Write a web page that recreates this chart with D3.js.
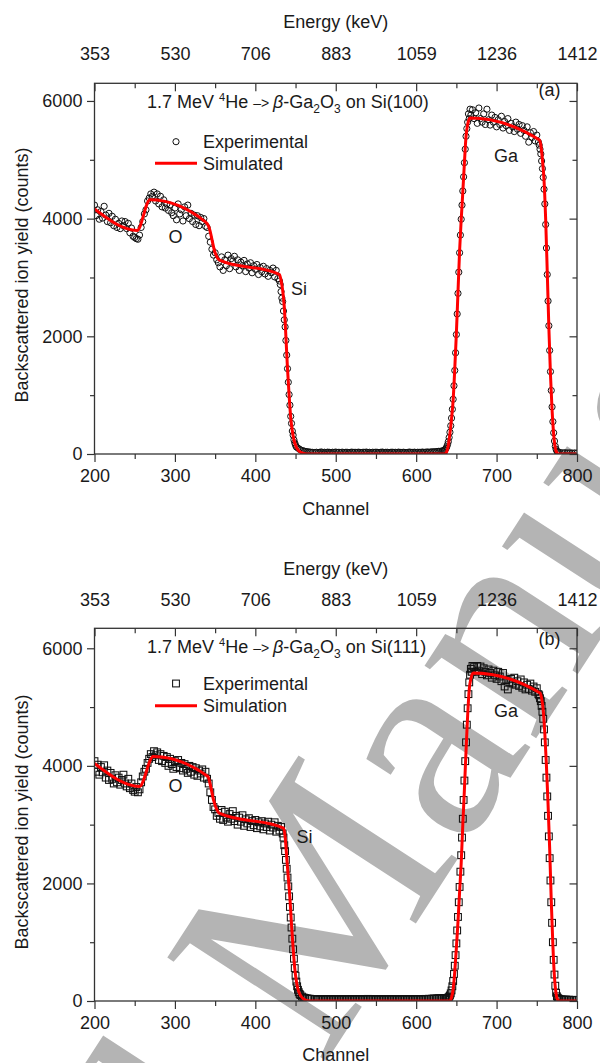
<!DOCTYPE html>
<html><head><meta charset="utf-8">
<script src="https://cdn.jsdelivr.net/npm/d3@7/dist/d3.min.js"></script>
<style>
body{margin:0;background:#fff}
svg{display:block}
text{font-family:"Liberation Sans",Arial,sans-serif;fill:#1a1a1a}
</style>
</head><body>
<script>
// ---------- tick labels / categories ----------
const channelTicks = [200, 300, 400, 500, 600, 700, 800];
const channelMinor = [250, 350, 450, 550, 650, 750];
const energyLabels = ["353", "530", "706", "883", "1059", "1236", "1412"];
const countTicks = [0, 2000, 4000, 6000];
const countMinor = [1000, 3000, 5000];

// ---------- panel (a): Si(100) ----------
const simA_ch = [200,253,269,338,342,350,355,430,432,434,436,438,440,442,444,446,448,450,453,457,462,466,
  636,638,640,642,644,646,648,650,652,654,656,658,660,662,664,667,753,755,757,759,761,763,765,767,769,771,773,775,777,800];
const simA_counts = [4165,3800,4320,3945,3870,3420,3300,3050,2950,2780,2500,2000,1450,1000,620,390,240,150,70,25,5,0,
  0,40,150,350,600,920,1450,2050,2750,3450,3980,4450,4950,5400,5600,5710,5340,5250,5000,4650,4000,3100,2150,1350,750,330,100,20,0,0];

// experimental segments: first channel, channel step, counts
const expA_200_430 = [4230,4050,4150,3990,4120,4010,4210,4060,3950,4090,
  3930,4040,3880,3990,3850,3920,3830,3960,3880,3950,
  3830,3920,3760,3840,3700,3680,3660,3650,3720,3850,
  3950,4080,4150,4300,4350,4420,4380,4450,4300,4420,
  4250,4380,4200,4320,4180,4250,4140,4230,4100,4050,
  4180,3980,4250,4080,4150,3960,4200,4050,4230,4000,
  4090,3950,4060,3900,4050,3880,4020,3950,4000,3870,
  3850,3700,3600,3480,3380,3420,3300,3250,3180,3350,
  3120,3300,3200,3380,3150,3320,3280,3360,3180,3300,
  3120,3260,3200,3290,3100,3230,3160,3250,3080,3200,
  3140,3220,3050,3170,3100,3190,3060,3150,3020,3120,
  3080,3160,3010,3120,2980,2940];
const expA_431_451 = [2880,2760,2650,2590,2430,2280,2160,1930,1680,1450,1220,1010,830,640,520,390,320,240,190,150,120];
const expA_453_471 = [100,80,65,55,48,42,38,34,30,28];
const expA_474_630 = [25,30,22,28,35,24,30,26,32,28, 22,30,27,33,25,29,24,31,26,28,
  30,23,27,32,26,29,25,31,28,24, 30,27,33,26,29,22,30,26,31,27,
  24,29,33,25,28,30,23,27,31,26, 29,24,32,28,25,30,27,22,29,33,
  26,28,31,24,30,27,29,33,28,31, 35,30,34,38,36,40,42,45,47];
const expA_632_668 = [48,52,58,65,75,95,120,160,210,280,370,480,610,760,930,1160,1420,1720,2030,2380,
  2730,3090,3420,3720,3990,4230,4470,4710,4950,5180,5400,5530,5640,5780,5700,5860,5760];
const expA_670_752 = [5850,5700,5800,5620,5880,5700,5640,5780,5600,5860,
  5680,5590,5760,5640,5720,5560,5680,5600,5740,5540,
  5650,5580,5700,5500,5620,5560,5480,5640,5520,5600,
  5450,5580,5500,5400,5560,5300,5460,5380,5480,5320,5420,5300];
const expA_753_777 = [5250,5180,5100,4980,4850,4700,4500,4250,3900,3500,
  3050,2600,2180,1760,1400,1080,800,550,360,220,130,80,50,35,30];
const expA_779_800 = [25,20,22,18,20,16,18,17];

// ---------- panel (b): Si(111) ----------
const simB_ch = [200,256,273,341,344,348,352,355,435,437,439,441,443,445,447,449,451,453,456,460,465,470,
  642,644,646,648,650,652,654,656,658,660,662,664,666,668,671,754,756,758,760,762,764,766,768,770,772,774,776,778,800];
const simB_counts = [4040,3650,4160,3820,3680,3420,3260,3195,2940,2800,2450,2100,1750,1300,900,560,340,200,100,35,5,0,
  0,60,200,500,900,1350,1850,2350,3000,3600,4250,4850,5300,5480,5580,5240,5150,4950,4550,4000,3350,2600,1700,950,400,120,20,0,0];

const expB_200_434 = [4080,3900,4020,3850,3980,3890,4010,3800,3920,3760,
  3880,3780,3700,3840,3720,3800,3680,3760,3850,3700,
  3650,3780,3620,3700,3590,3560,3640,3550,3600,3720,
  3820,3900,3950,4050,4120,4200,4150,4250,4180,4230,
  4100,4200,4080,4170,4050,4150,4000,4120,4030,3950,
  4080,3980,4100,3960,4050,3920,4030,3950,3880,4000,
  3900,3980,3850,3960,3830,3920,3870,3940,3800,3900,
  3780,3700,3550,3420,3300,3260,3150,3200,3100,3250,
  3080,3220,3120,3050,3180,3100,3230,3060,3150,3000,
  3120,3050,3160,2980,3090,3020,3110,2960,3060,2990,
  3080,2940,3040,2970,3060,2920,3020,2960,3050,2900,
  3000,2950,3040,2880,2980,2900,2960,2850];
const expB_435_456 = [2780,2650,2550,2400,2250,2100,1950,1780,1600,1420,1250,1060,880,720,560,430,330,250,190,150,120,100];
const expB_458_470 = [75,60,50,45,40,38,35];
const expB_474_634 = [30,26,33,28,24,31,27,35,29,25, 32,28,34,26,30,27,33,29,25,31,
  28,34,26,30,32,27,29,35,28,31, 26,33,29,36,30,34,28,32,27,31,
  29,25,33,28,30,26,34,29,31,27, 32,28,25,30,33,27,29,31,26,34,
  28,30,32,27,35,29,31,33,30,36, 34,38,35,40,42,39,44,46,48,45, 50];
const expB_636_670 = [50,52,45,50,60,75,95,130,180,250,340,460,600,780,980,1200,1430,1680,1940,2200,
  2480,2780,3100,3420,3750,4080,4400,4700,4980,5220,5420,5550,5650,5600,5700];
const expB_672_752 = [5680,5600,5700,5620,5690,5560,5660,5600,5540,5640,
  5580,5500,5620,5540,5480,5600,5520,5440,5580,5350,
  5460,5300,5420,5480,5400,5500,5380,5440,5360,5470,
  5330,5420,5300,5380,5310,5400,5280,5350,5260,5320,5220];
const expB_753_778 = [5200,5150,5100,5020,4920,4800,4620,4400,4100,3800,
  3480,3150,2800,2430,2050,1680,1330,1000,700,450,260,140,80,55,40,32];
const expB_780_800 = [28,25,22,25,20,22,18,20,17,19,18];

const expA_segments = [[200,2,expA_200_430],[431,1,expA_431_451],[453,2,expA_453_471],[474,2,expA_474_630],
  [632,1,expA_632_668],[670,2,expA_670_752],[753,1,expA_753_777],[779,3,expA_779_800]];
const expB_segments = [[200,2,expB_200_434],[435,1,expB_435_456],[458,2,expB_458_470],[474,2,expB_474_634],
  [636,1,expB_636_670],[672,2,expB_672_752],[753,1,expB_753_778],[780,2,expB_780_800]];

function expand(segs){
  const out = [];
  segs.forEach(([start, step, vals]) => vals.forEach((v, i) => out.push([start + i*step, v])));
  return out;
}

// ---------- drawing ----------
const W = 600, H = 1063;
const svg = d3.select("body").append("svg").attr("width", W).attr("height", H);
const wm = svg.append("g");   // watermark layer (beneath the chart)
const X0 = 94.5, X1 = 577;
const RED = "#ff0000", INK = "#1a1a1a", AX = "#333";

const panels = [
  {id:"a", top:83.3, bottom:454, ymax:6300, energyTitle:28.2, energyLbl:59.6, chTitle:514.6, yTitle:275,
   sim:[simA_ch, simA_counts], exp:expand(expA_segments), marker:"circle",
   title:"Si(100)", tag:"(a)", tagY:96.3, titleY:108.3, legY:[141.7,163.3], legName:"Simulated",
   O:[175.5,242.7], Si:[291,295], Ga:[494,162.3]},
  {id:"b", top:628.3, bottom:1001, ymax:6340, energyTitle:574.6, energyLbl:606.3, chTitle:1060.8, yTitle:822,
   sim:[simB_ch, simB_counts], exp:expand(expB_segments), marker:"square",
   title:"Si(111)", tag:"(b)", tagY:644.6, titleY:653.3, legY:[683.5,705.7], legName:"Simulation",
   O:[175.5,791.7], Si:[296.6,843.3], Ga:[494,716.7]}
];

const x = d3.scaleLinear().domain([200, 800]).range([X0, X1]);

panels.forEach(p => {
  const y = d3.scaleLinear().domain([0, p.ymax]).range([p.bottom, p.top]);
  const g = svg.append("g");
  const clipId = "clip" + p.id;
  g.append("clipPath").attr("id", clipId).append("rect")
    .attr("x", X0).attr("y", p.top).attr("width", X1 - X0).attr("height", p.bottom - p.top);

  // experimental markers
  const mk = g.append("g").attr("clip-path", `url(#${clipId})`);
  if (p.marker === "circle") {
    mk.selectAll("circle").data(p.exp).join("circle")
      .attr("cx", d => x(d[0])).attr("cy", d => y(d[1])).attr("r", 3.1)
      .attr("fill", "none").attr("stroke", "#111").attr("stroke-width", 1);
  } else {
    mk.selectAll("rect").data(p.exp).join("rect")
      .attr("x", d => x(d[0]) - 3.4).attr("y", d => y(d[1]) - 3.4).attr("width", 6.8).attr("height", 6.8)
      .attr("fill", "none").attr("stroke", "#111").attr("stroke-width", 1.05);
  }
  // simulated line
  const simData = p.sim[0].map((c, i) => [c, p.sim[1][i]]);
  g.append("path").datum(simData).attr("clip-path", `url(#${clipId})`)
    .attr("fill", "none").attr("stroke", RED).attr("stroke-width", 3).attr("stroke-linejoin", "round")
    .attr("d", d3.line().x(d => x(d[0])).y(d => y(d[1])).curve(d3.curveMonotoneX));

  // axes
  const styleAxis = sel => {
    sel.select(".domain").remove();
    sel.selectAll("line").attr("stroke", AX).attr("stroke-width", 1.2);
    sel.selectAll("text").attr("font-size", 18).attr("fill", INK)
      .style("font-family", '"Liberation Sans", Arial, sans-serif');
  };
  g.append("g").attr("transform", `translate(0,${p.bottom})`)
    .call(d3.axisBottom(x).tickValues(channelTicks).tickSize(8).tickPadding(7.6).tickFormat(d3.format("d")))
    .call(styleAxis);
  g.append("g").attr("transform", `translate(0,${p.bottom})`)
    .call(d3.axisBottom(x).tickValues(channelMinor).tickSize(5).tickFormat(""))
    .call(styleAxis);
  g.append("g").attr("transform", `translate(0,${p.top})`)
    .call(d3.axisTop(x).tickValues(channelTicks).tickSize(-8).tickPadding(p.top - p.energyLbl)
      .tickFormat((d, i) => energyLabels[i]))
    .call(styleAxis);
  g.append("g").attr("transform", `translate(0,${p.top})`)
    .call(d3.axisTop(x).tickValues(channelMinor).tickSize(-5).tickFormat(""))
    .call(styleAxis);
  g.append("g").attr("transform", `translate(${X0},0)`)
    .call(d3.axisLeft(y).tickValues(countTicks).tickSize(7.5).tickPadding(4.6).tickFormat(d3.format("d")))
    .call(styleAxis);
  g.append("g").attr("transform", `translate(${X0},0)`)
    .call(d3.axisLeft(y).tickValues(countMinor).tickSize(4.5).tickFormat(""))
    .call(styleAxis);
  g.append("g").attr("transform", `translate(${X1},0)`)
    .call(d3.axisRight(y).tickValues(countTicks).tickSize(-7.5).tickFormat(""))
    .call(styleAxis);
  g.append("g").attr("transform", `translate(${X1},0)`)
    .call(d3.axisRight(y).tickValues(countMinor).tickSize(-4.5).tickFormat(""))
    .call(styleAxis);

  // frame
  g.append("rect").attr("x", X0).attr("y", p.top).attr("width", X1 - X0).attr("height", p.bottom - p.top)
    .attr("fill", "none").attr("stroke", AX).attr("stroke-width", 1.3);

  // axis titles
  g.append("text").attr("x", (X0 + X1) / 2).attr("y", p.energyTitle).attr("text-anchor", "middle")
    .attr("font-size", 18).text("Energy (keV)");
  g.append("text").attr("x", (X0 + X1) / 2).attr("y", p.chTitle).attr("text-anchor", "middle")
    .attr("font-size", 18).text("Channel");
  g.append("text").attr("transform", `translate(28.2,${p.yTitle}) rotate(-90)`).attr("text-anchor", "middle")
    .attr("font-size", 18).text("Backscattered ion yield (counts)");

  // in-plot title
  const t = g.append("text").attr("x", 147).attr("y", p.titleY).attr("font-size", 18);
  t.append("tspan").text("1.7 MeV ");
  t.append("tspan").attr("font-size", 11).attr("dy", -7.5).text("4");
  t.append("tspan").attr("dy", 7.5).text("He ");
  t.append("tspan").attr("font-size", 14).text("–> ");
  t.append("tspan").attr("font-style", "italic").text("β");
  t.append("tspan").text("-Ga");
  t.append("tspan").attr("font-size", 12).attr("dy", 4.5).text("2");
  t.append("tspan").attr("dy", -4.5).text("O");
  t.append("tspan").attr("font-size", 12).attr("dy", 4.5).text("3");
  t.append("tspan").attr("dy", -4.5).text(" on " + p.title);

  g.append("text").attr("x", 549.5).attr("y", p.tagY).attr("text-anchor", "middle").attr("font-size", 18).text(p.tag);

  // legend
  if (p.marker === "circle") {
    g.append("circle").attr("cx", 176).attr("cy", p.legY[0]).attr("r", 3.1)
      .attr("fill", "none").attr("stroke", "#111").attr("stroke-width", 1);
  } else {
    g.append("rect").attr("x", 176 - 3.4).attr("y", p.legY[0] - 3.4).attr("width", 6.8).attr("height", 6.8)
      .attr("fill", "none").attr("stroke", "#111").attr("stroke-width", 1.05);
  }
  g.append("text").attr("x", 203).attr("y", p.legY[0] + 6.3).attr("font-size", 18).text("Experimental");
  g.append("line").attr("x1", 155).attr("x2", 197).attr("y1", p.legY[1]).attr("y2", p.legY[1])
    .attr("stroke", RED).attr("stroke-width", 3);
  g.append("text").attr("x", 203).attr("y", p.legY[1] + 6.3).attr("font-size", 18).text(p.legName);

  // element labels
  g.append("text").attr("x", p.O[0]).attr("y", p.O[1]).attr("text-anchor", "middle").attr("font-size", 18).text("O");
  g.append("text").attr("x", p.Si[0]).attr("y", p.Si[1]).attr("font-size", 18).text("Si");
  g.append("text").attr("x", p.Ga[0]).attr("y", p.Ga[1]).attr("font-size", 18).text("Ga");
});

// watermark
const wmg = wm.append("g").attr("transform", "translate(322,1068) rotate(-57)");
wmg.append("text").attr("x", 0).attr("y", 0).attr("font-size", 290)
  .style("font-family", '"Liberation Serif","Times New Roman",serif').style("fill", "#b4b4b4")
  .text("Manuscript");
wmg.append("text").attr("x", -72).attr("y", 0).attr("font-size", 290).attr("text-anchor", "end")
  .style("font-family", '"Liberation Serif","Times New Roman",serif').style("fill", "#b4b4b4")
  .text("Accepted");
</script>
</body></html>
